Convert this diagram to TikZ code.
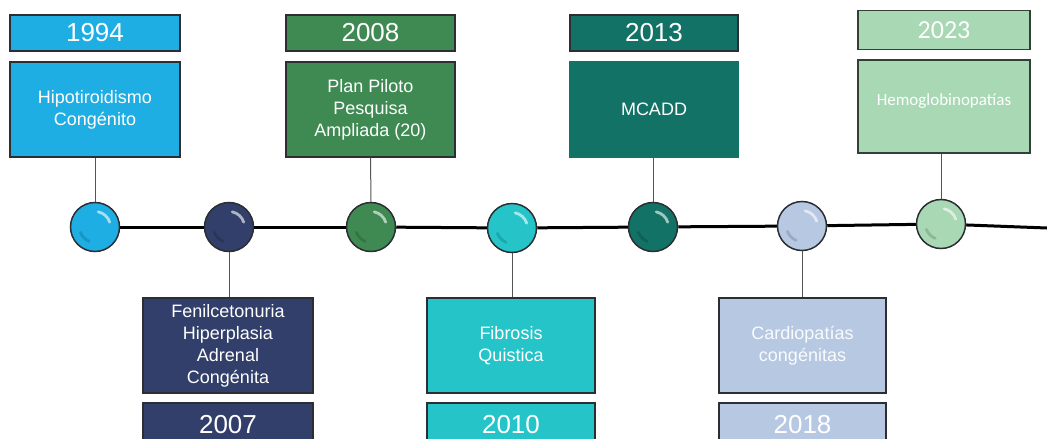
\documentclass[tikz,border=0pt]{standalone}
\usepackage{fontspec}
\setmainfont{Liberation Sans}
\newfontfamily\calib{Carlito}
\usetikzlibrary{calc}
\definecolor{cA}{HTML}{1FAEE3}
\definecolor{cB}{HTML}{323F6B}
\definecolor{cC}{HTML}{3E8A52}
\definecolor{cD}{HTML}{25C4C9}
\definecolor{cE}{HTML}{137266}
\definecolor{cF}{HTML}{B7C8E2}
\definecolor{cG}{HTML}{A8D8B4}
\definecolor{edge}{HTML}{2B2F33}
\definecolor{conn}{HTML}{555555}
\tikzset{
  box/.style={draw=edge, line width=1.3pt, inner sep=2pt, align=center, text=white,
    font=\fontsize{18}{22}\selectfont},
  yearbox/.style={box, minimum height=36pt, font=\fontsize{26}{28}\selectfont},
  infobox/.style={box, minimum height=95pt},
  bead/.style={circle, draw=edge, line width=1.5pt, minimum size=49pt, inner sep=0pt},
  tl/.style={line width=3pt, black},
  connector/.style={draw=conn, line width=1pt},
}
\newcommand{\beadshade}[2]{%
  \draw[#2!40!white, line width=2.8pt, line cap=round]
    ($(#1.center)+(-78:15.5)$) arc[start angle=-78, end angle=-18, radius=15.5];
  \draw[#2!75!black, line width=2.8pt, line cap=round, opacity=0.6]
    ($(#1.center)+(112:15.5)$) arc[start angle=112, end angle=160, radius=15.5];
}
\begin{document}
\begin{tikzpicture}[x=1pt, y=-1pt]
\useasboundingbox (0,0) rectangle (1047,439);
\clip (0,0) rectangle (1047,439);
% top boxes
\node[yearbox, fill=cA, minimum width=170pt] (y1994) at (95,33) {1994};
\node[infobox, fill=cA, minimum width=170pt] (i1994) at (95,109.5) {Hipotiroidismo\\Congénito};
\node[yearbox, fill=cC, minimum width=169pt] (y2008) at (370.5,33) {2008};
\node[infobox, fill=cC, minimum width=169pt] (i2008) at (370.5,109.5) {Plan Piloto\\Pesquisa\\Ampliada (20)};
\node[yearbox, fill=cE, minimum width=168pt] (y2013) at (654,33) {2013};
\node[infobox, fill=cE, draw=cE, minimum width=168pt] (i2013) at (654,109.5) {MCADD};
\node[yearbox, fill=cG, draw=cG!30!black, line width=1.8pt, minimum width=172pt, minimum height=39pt, font=\calib\fontsize{26}{28}\selectfont] (y2023) at (944,30) {2023};
\node[infobox, fill=cG, draw=cG!30!black, line width=1.8pt, minimum width=172pt, minimum height=93pt] (i2023) at (944,106.5) {};
\node[text=white, font=\calib\fontsize{17}{20}\selectfont] (t2023) at (944,101) {Hemoglobinopatías};
% bottom boxes
\node[infobox, fill=cB, minimum width=170pt] (i2007) at (228,345.5) {Fenilcetonuria\\Hiperplasia\\Adrenal\\Congénita};
\node[yearbox, fill=cB, minimum width=170pt, minimum height=44pt] (y2007) at (228,425) {2007};
\node[infobox, fill=cD, minimum width=168pt] (i2010) at (511,345.5) {Fibrosis\\Quistica};
\node[yearbox, fill=cD, minimum width=168pt, minimum height=44pt] (y2010) at (511,425) {2010};
\node[infobox, fill=cF, minimum width=167pt, text=white!92!cF] (i2018) at (802.5,345.5) {Cardiopatías\\congénitas};
\node[yearbox, fill=cF, minimum width=167pt, minimum height=44pt] (y2018) at (802.5,425) {2018};
% beads
\node[bead, fill=cA] (c1) at (95,227) {};
\node[bead, fill=cB] (c2) at (229,227) {};
\node[bead, fill=cC] (c3) at (371,227) {};
\node[bead, fill=cD] (c4) at (512,228) {};
\node[bead, fill=cE] (c5) at (653,227) {};
\node[bead, fill=cF] (c6) at (802,226) {};
\node[bead, fill=cG] (c7) at (941,224) {};
\coordinate (tlend) at (1047,228);
\beadshade{c1}{cA}
\beadshade{c2}{cB}
\beadshade{c3}{cC}
\beadshade{c4}{cD}
\beadshade{c5}{cE}
\beadshade{c6}{cF}
\beadshade{c7}{cG}
% timeline
\draw[tl] (c1) -- (c2);
\draw[tl] (c2) -- (c3);
\draw[tl] (c3) -- (c4);
\draw[tl] (c4) -- (c5);
\draw[tl] (c5) -- (c6);
\draw[tl] (c6) -- (c7);
\draw[tl] (c7) -- (tlend);
% connectors
\draw[connector] (i1994.south) -- (c1.north);
\draw[connector] (i2008.south) -- (c3.north);
\draw[connector] (c5.north) -- (c5.north |- i2013.south);
\draw[connector] (c7.north) -- (c7.north |- i2023.south);
\draw[connector] (c2.south) -- (c2.south |- i2007.north);
\draw[connector] (c4.south) -- (c4.south |- i2010.north);
\draw[connector] (c6.south) -- (c6.south |- i2018.north);
\end{tikzpicture}
\end{document}
